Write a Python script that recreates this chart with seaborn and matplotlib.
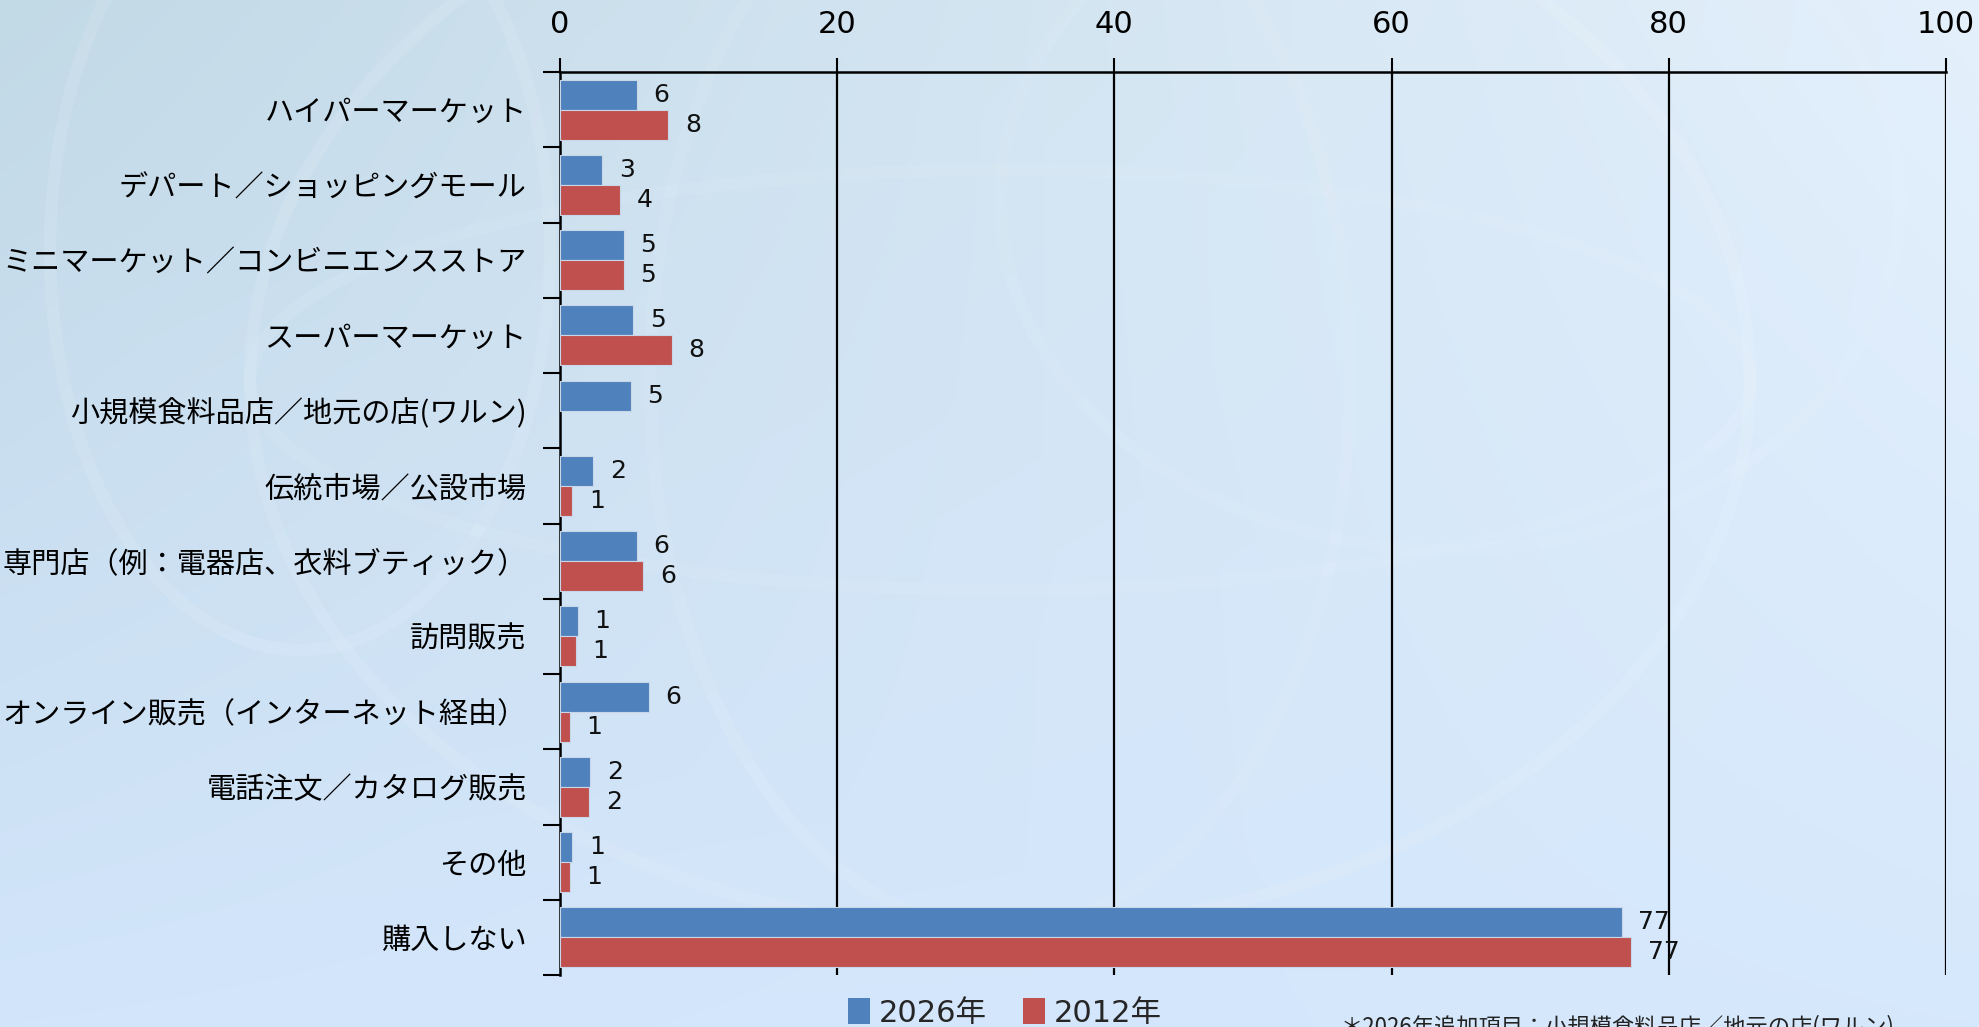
import numpy as np
import pandas as pd
import matplotlib
matplotlib.use("Agg")
import matplotlib.pyplot as plt
from matplotlib.patches import Patch, Ellipse
from matplotlib.ticker import FixedLocator
import seaborn as sns

# ---- data -------------------------------------------------------------
stores = [
    "ハイパーマーケット",
    "デパート／ショッピングモール",
    "ミニマーケット／コンビニエンスストア",
    "スーパーマーケット",
    "小規模食料品店／地元の店(ワルン)",
    "伝統市場／公設市場",
    "専門店（例：電器店、衣料ブティック）",
    "訪問販売",
    "オンライン販売（インターネット経由）",
    "電話注文／カタログ販売",
    "その他",
    "購入しない",
]
share_2026 = [5.55, 3.05, 4.6, 5.3, 5.1, 2.4, 5.55, 1.3, 6.4, 2.2, 0.9, 76.6]
share_2012 = [7.8, 4.35, 4.6, 8.05, np.nan, 0.9, 6.0, 1.15, 0.7, 2.1, 0.7, 77.3]
years = ["2026年", "2012年"]
x_ticks = [0, 20, 40, 60, 80, 100]
footnote = "＊2026年追加項目：小規模食料品店／地元の店(ワルン)"

BLUE = "#4F81BD"
RED = "#C0504D"

df = pd.DataFrame({
    "store": stores * 2,
    "share": share_2026 + share_2012,
    "year": [years[0]] * len(stores) + [years[1]] * len(stores),
})

# ---- style ------------------------------------------------------------
sns.set_theme(style="white")
plt.rcParams["font.family"] = ["Noto Sans CJK JP", "DejaVu Sans"]

W, H = 1979, 1027
fig = plt.figure(figsize=(W / 100, H / 100), dpi=100)

# soft blue backdrop with faint globe lines
bg = fig.add_axes([0, 0, 1, 1], zorder=-10)
yy, xx = np.mgrid[0:1:200j, 0:1:400j]
tl = np.array([194, 217, 230]) / 255
tr = np.array([228, 240, 252]) / 255
bl = np.array([210, 229, 251]) / 255
br = np.array([214, 232, 252]) / 255
img = (tl * ((1 - xx) * (1 - yy))[..., None] + tr * (xx * (1 - yy))[..., None]
       + bl * ((1 - xx) * yy)[..., None] + br * (xx * yy)[..., None])
bg.imshow(img, extent=[0, W, H, 0], aspect="auto", interpolation="bilinear")
for (cx, cy, w, h, a) in [(1000, 380, 1500, 1100, 0.10), (1000, 380, 700, 1100, 0.08),
                          (1000, 380, 1500, 420, 0.07), (300, 250, 500, 800, 0.10),
                          (1450, 200, 900, 700, 0.06)]:
    bg.add_patch(Ellipse((cx, cy), w, h, fill=False, ec="white", lw=9, alpha=a))
bg.set_xlim(0, W)
bg.set_ylim(H, 0)
bg.axis("off")

ax = fig.add_axes([560 / W, 1 - 975 / H, (1946 - 560) / W, (975 - 72) / H])
ax.set_facecolor("none")

sns.barplot(data=df, y="store", x="share", hue="year", hue_order=years,
            order=stores, orient="h", palette=[BLUE, RED], saturation=1,
            width=0.8, dodge=True, edgecolor="#c9d6e8", linewidth=0.8,
            errorbar=None, legend=False, ax=ax, zorder=3)

for cont in ax.containers:
    vals = cont.datavalues
    labels = ["" if np.isnan(v) else f"{v:.0f}" for v in vals]
    ax.bar_label(cont, labels=labels, padding=12, fontsize=18,
                 family="DejaVu Sans", color="#111111")

# axes / ticks
ax.set_xlim(0, 100)
ax.set_ylim(len(stores) - 0.5, -0.5)
ax.xaxis.set_ticks_position("top")
ax.xaxis.set_label_position("top")
ax.set_xticks(x_ticks)
ax.set_xticklabels([str(t) for t in x_ticks], fontsize=22, family="DejaVu Sans")
ax.tick_params(axis="x", which="major", direction="out", length=10, width=1.5,
               color="black", pad=14, labelcolor="black")
ax.set_xlabel("")
ax.set_ylabel("")

ax.yaxis.set_minor_locator(FixedLocator(np.arange(-0.5, len(stores), 1.0)))
ax.tick_params(axis="y", which="major", length=0, pad=24, labelsize=21,
               labelcolor="black")
ax.tick_params(axis="y", which="minor", left=True, direction="out", length=12,
               width=1.5, color="black")

for xv in x_ticks[1:]:
    ax.axvline(xv, color="black", lw=1.6, zorder=1)

for s in ["right", "bottom"]:
    ax.spines[s].set_visible(False)
for s in ["left", "top"]:
    ax.spines[s].set_visible(True)
    ax.spines[s].set_color("black")
    ax.spines[s].set_linewidth(1.8)

# legend along the bottom edge
handles = [Patch(facecolor=BLUE, edgecolor="none"), Patch(facecolor=RED, edgecolor="none")]
fig.legend(handles, years, loc="center", bbox_to_anchor=(1005 / W, 1 - 1013 / H),
           ncol=2, frameon=False, handlelength=0.7, handleheight=0.9,
           handletextpad=0.3, columnspacing=1.2,
           prop={"family": ["DejaVu Sans", "Noto Sans CJK JP"], "size": 22})

fig.text(1341 / W, 1 - 1015 / H, footnote, fontsize=16, va="top", ha="left",
         color="#222222")

fig.savefig("out.png", dpi=100)
